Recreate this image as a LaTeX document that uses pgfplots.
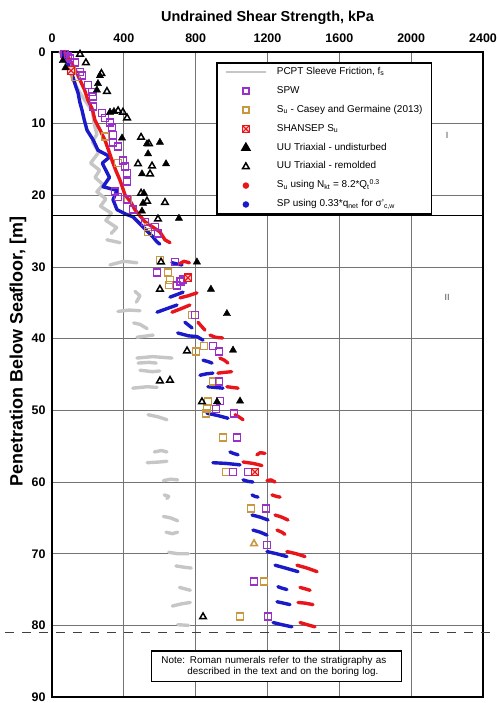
\documentclass[border=0pt]{standalone}
\usepackage{fontspec}
\setmainfont{Liberation Sans}
\usepackage{pgfplots}
\pgfplotsset{compat=1.18}

\definecolor{spw}{HTML}{9B2FC9}
\definecolor{casey}{HTML}{C9973F}
\definecolor{nkt}{HTML}{E8151B}
\definecolor{spb}{HTML}{1A1AC8}
\definecolor{pcpt}{HTML}{C6C6C6}

% red square with an X for SHANSEP
\pgfdeclareplotmark{boxx}{%
  \pgfpathrectangle{\pgfpoint{-\pgfplotmarksize}{-\pgfplotmarksize}}{\pgfpoint{2\pgfplotmarksize}{2\pgfplotmarksize}}%
  \pgfusepathqfillstroke
  \pgfpathmoveto{\pgfpoint{-\pgfplotmarksize}{-\pgfplotmarksize}}\pgfpathlineto{\pgfpoint{\pgfplotmarksize}{\pgfplotmarksize}}%
  \pgfpathmoveto{\pgfpoint{-\pgfplotmarksize}{\pgfplotmarksize}}\pgfpathlineto{\pgfpoint{\pgfplotmarksize}{-\pgfplotmarksize}}%
  \pgfusepathqstroke}

\begin{document}
\begin{tikzpicture}
\begin{axis}[
    scale only axis, width=431bp, height=645bp,
    xmin=0, xmax=2400, ymin=0, ymax=90,
    y dir=reverse,
    xticklabel pos=upper,
    xtick={0,400,...,2400}, ytick={0,10,...,90},
    major tick length=0pt,
    ticklabel style={font=\fontsize{12.5}{14}\selectfont\bfseries},
    xticklabel style={yshift=6bp},
    yticklabel style={xshift=-3bp},
    /pgf/number format/assume math mode=true,
    /pgf/number format/1000 sep={},
    xlabel={Undrained Shear Strength, kPa},
    ylabel={Penetration Below Seafloor, [m]},
    xlabel style={font=\fontsize{14.5}{16}\selectfont\bfseries, at={(axis description cs:0.5,1.048)}, anchor=base},
    ylabel style={font=\fontsize{18}{20}\selectfont\bfseries, at={(axis description cs:-0.079,0.536)}, anchor=center},
    grid=major, grid style={black!55, line width=0.8bp},
    axis line style={line width=2.5bp},
    clip=false,
    legend image code/.code={\draw[mark repeat=2,mark phase=2,#1] plot coordinates {(0bp,0bp) (20bp,0bp) (40bp,0bp)};},
    legend style={at={(0.3805,0.9845)}, anchor=north west, draw=black, line width=1.8bp,
        font=\fontsize{10}{11}\selectfont, inner xsep=8bp, inner ysep=3.5bp, row sep=7.4bp,
        nodes={inner sep=1bp, text height=7bp, text depth=2.5bp},
        /tikz/every odd column/.append style={column sep=9bp}},
    legend cell align=left,
]
\coordinate (BL) at (axis cs:-289.5,90.83);
\coordinate (TR) at (axis cs:2477.9,-7.26);

% legend images
\addlegendimage{pcpt, line width=2pt}
\addlegendentry{PCPT Sleeve Friction, f\textsubscript{s}}
\addlegendimage{only marks, mark=square, mark size=3bp, mark options={draw=spw, line width=1.6bp}}
\addlegendentry{SPW}
\addlegendimage{only marks, mark=square, mark size=3bp, mark options={draw=casey, line width=1.6bp}}
\addlegendentry{S\textsubscript{u} - Casey and Germaine (2013)}
\addlegendimage{only marks, mark=boxx, mark size=3.3bp, mark options={draw=nkt, fill=nkt!20, line width=1.1bp}}
\addlegendentry{SHANSEP S\textsubscript{u}}
\addlegendimage{only marks, mark=triangle*, mark size=4.2bp, mark options={black}}
\addlegendentry{UU Triaxial - undisturbed}
\addlegendimage{only marks, mark=triangle, mark size=3.8bp, mark options={black, line width=1.5bp}}
\addlegendentry{UU Triaxial - remolded}
\addlegendimage{only marks, mark=*, mark size=2.3bp, mark options={nkt}}
\addlegendentry{S\textsubscript{u} using N\textsubscript{kt} = 8.2*Q\textsubscript{t}\textsuperscript{0.3}}
\addlegendimage{only marks, mark=*, mark size=2.3bp, mark options={spb}}
\addlegendentry{SP using 0.33*q\textsubscript{net} for σ'\textsubscript{c,w}}

% PCPT sleeve friction
\addplot[pcpt, line width=3.4bp, line cap=round, line join=round, unbounded coords=jump, forget plot] coordinates {
(45,0) (70,1) (95,2.5) (120,4) (150,5.5) (190,7) (225,8.2) (235,10) (250,11.5) (225,12.5) (260,14)
(215,15.5) (265,16.5) (240,17.5) (285,18.5) (250,19.5) (300,20.5) (270,21.5) (330,22.5) (300,23.5)
(360,24.5) (330,25.3) (nan,nan)
(306,26.2) (379,26.6) (nan,nan)
(323,29.7) (400,29.2) (473,29.4) (nan,nan)
(462,33.4) (490,34.0) (470,34.9) (nan,nan)
(367,36.2) (430,36.0) (490,36.1) (nan,nan)
(455,37.8) (490,38.0) (530,38.6) (nan,nan)
(473,39.8) (530,39.6) (563,39.5) (nan,nan)
(473,42.7) (560,42.5) (668,42.7) (nan,nan)
(480,43.4) (540,43.3) (580,43.4) (nan,nan)
(490,44.4) (560,44.6) (600,44.5) (nan,nan)
(450,46.9) (530,46.7) (585,46.8) (nan,nan)
(535,50.6) (590,50.9) (640,51.3) (nan,nan)
(570,55.8) (610,55.6) (640,55.8) (nan,nan)
(530,57.3) (600,57.2) (640,57.1) (nan,nan)
(620,59.8) (660,59.6) (700,59.7) (nan,nan)
(625,61.8) (650,62.0) (640,62.3) (nan,nan)
(620,64.8) (660,65.0) (700,65.4) (nan,nan)
(635,67.0) (670,67.2) (700,67.0) (nan,nan)
(650,69.8) (700,70.0) (760,70.0) (nan,nan)
(690,71.7) (740,71.9) (775,72.0) (nan,nan)
(710,74.7) (740,74.9) (770,75.1) (nan,nan)
(670,77.3) (720,77.0) (770,76.8) (nan,nan)
(700,79.9) (760,80.0)
};

% SP using 0.33 q_net (blue)
\addplot[spb, line width=3.4bp, line cap=round, line join=round, unbounded coords=jump, forget plot] coordinates {
(50,0) (72,0.7) (95,2) (117,3.5) (130,4.6) (145,5.7) (155,7) (167,8.1) (180,9.5) (195,10.9) (230,12.3)
(256,13.7) (323,14.6) (280,15.5) (300,16.5) (320,17.5) (284,18.8) (362,19.3) (340,20.6) (362,22.0)
(410,22.6) (451,23.0) (507,24.4) (562,25.8) (585,26.5) (600,26.8) (nan,nan)
(668,29.4) (700,29.6) (724,29.7) (nan,nan)
(657,34.2) (700,33.8) (730,33.5) (nan,nan)
(585,36.3) (640,35.8) (696,35.3) (nan,nan)
(740,37.7) (760,38.1) (780,38.5) (nan,nan)
(700,39.2) (760,39.6) (807,39.7) (841,40.2) (nan,nan)
(841,43.0) (870,43.2) (891,43.4) (nan,nan)
(824,45.1) (860,44.9) (896,44.8) (nan,nan)
(868,46.7) (910,46.8) (952,46.9) (nan,nan)
(863,50.4) (920,50.7) (980,51.1) (nan,nan)
(991,55.8) (1010,56.0) (1036,56.2) (nan,nan)
(896,57.3) (970,57.4) (1047,57.6) (nan,nan)
(1064,59.7) (1090,59.9) (1119,60.0) (nan,nan)
(1114,61.8) (1130,62.0) (1147,62.1) (nan,nan)
(1114,64.6) (1160,64.9) (1203,65.3) (nan,nan)
(1119,66.7) (1160,67.0) (1197,67.4) (nan,nan)
(1197,69.7) (1250,70.0) (1308,70.4) (nan,nan)
(1242,71.6) (1300,72.0) (1370,72.5) (nan,nan)
(1258,74.6) (1280,74.8) (1308,75.0) (nan,nan)
(1253,76.7) (1290,76.9) (1325,77.1) (nan,nan)
(1231,79.6) (1280,79.9) (1336,80.2)
};

% Su using Nkt (red)
\addplot[nkt, line width=3.4bp, line cap=round, line join=round, unbounded coords=jump, forget plot] coordinates {
(70,0) (100,1.1) (130,2.5) (156,3.9) (180,5.2) (200,6.7) (225,8) (239,9.5) (270,11) (295,12.3)
(315,13.7) (334,15.1) (355,16.5) (379,17.9) (406,19.9) (440,21) (462,22) (518,23.7) (560,24.4)
(601,25.1) (629,26.2) (657,26.6) (nan,nan)
(713,29.5) (735,29.2) (765,29.4) (nan,nan)
(713,34.3) (760,34.0) (807,33.6) (nan,nan)
(668,36.3) (720,35.8) (768,35.3) (nan,nan)
(813,37.7) (830,38.2) (852,38.8) (nan,nan)
(880,39.5) (910,39.8) (950,39.9) (nan,nan)
(935,42.7) (960,43.0) (980,43.4) (nan,nan)
(924,44.8) (960,44.7) (1000,44.6) (nan,nan)
(974,46.7) (1005,46.8) (1036,46.9) (nan,nan)
(1019,50.6) (1040,50.9) (1064,51.3) (nan,nan)
(1141,56.2) (1160,55.9) (1186,56.0) (nan,nan)
(1064,57.2) (1120,57.4) (1169,57.7) (nan,nan)
(1197,59.8) (1220,59.7) (1242,60.0) (nan,nan)
(1225,61.8) (1250,62.0) (1270,62.1) (nan,nan)
(1242,64.6) (1280,64.9) (1314,65.3) (nan,nan)
(1253,66.7) (1280,67.0) (1297,67.3) (nan,nan)
(1308,69.7) (1360,70.0) (1409,70.4) (nan,nan)
(1364,71.6) (1420,72.0) (1476,72.5) (nan,nan)
(1381,74.7) (1410,74.9) (1437,75.1) (nan,nan)
(1370,76.8) (1410,76.9) (1453,77.1) (nan,nan)
(1381,79.6) (1420,79.9) (1464,80.2)
};

% Casey and Germaine
\addplot[only marks, mark=square, mark size=3.5bp, mark options={draw=casey, line width=1.6bp}, forget plot] coordinates {
(111,2.5) (130,3.5) (295,11.8) (368,15.5) (423,20.6) (535,24.4) (535,25.1) (601,29.0) (646,30.8)
(657,31.8) (652,32.5) (780,36.7) (802,41.8) (846,41.0) (896,46.0) (868,48.8) (863,49.7) (857,50.4)
(952,53.8) (969,58.6) (1108,63.7) (1181,73.9) (1047,78.8)
};
\addplot[only marks, mark=triangle, mark size=3.8bp, mark options={draw=casey, line width=1.6bp}, forget plot] coordinates {(1125,68.6)};

% SPW
\addplot[only marks, mark=square, mark size=3.5bp, mark options={draw=spw, line width=1.6bp}, forget plot] coordinates {
(70,0.3) (89,0.6) (100,0.9) (128,1.5) (156,2.8) (167,3.3) (200,4.6) (223,5.6) (228,6.2) (228,7.6)
(278,8.5) (295,9.2) (323,9.8) (334,10.5) (340,11.6) (340,12.6) (368,13.2) (395,15.1) (406,16.0)
(418,16.9) (418,18.1) (351,19.5) (368,20.2) (418,20.6) (451,22.0) (518,23.7) (574,24.4) (590,25.3)
(685,29.3) (585,30.8) (729,31.7) (715,32.0) (696,32.6) (796,36.7) (896,41.0) (930,41.8) (930,46.0)
(935,48.7) (913,49.8) (1013,50.4) (1030,53.8) (1008,58.6) (1091,58.6) (1192,63.7) (1197,68.8)
(1125,73.9) (1203,78.8)
};

% SHANSEP
\addplot[only marks, mark=boxx, mark size=3.8bp, mark options={draw=nkt, fill=nkt!20, line width=1.1bp}, forget plot] coordinates {
(106,2.6) (757,31.5) (1130,58.6)
};

% UU undisturbed
\addplot[only marks, mark=triangle*, mark size=4.2bp, mark options={black}, forget plot] coordinates {
(60,1.2) (75,2.2) (267,3.3) (256,4.4) (250,5.3) (323,8.4) (345,8.3) (390,12.0) (529,12.8) (601,12.6)
(535,14.2) (635,15.6) (501,17.0) (512,19.7) (507,21.1) (501,22.2) (707,23.2) (807,29.3) (885,33.1)
(974,36.5) (1008,41.6) (1047,48.7) (919,48.8)
};

% UU remolded
\addplot[only marks, mark=triangle, mark size=3.8bp, mark options={black, line width=1.5bp}, forget plot] coordinates {
(156,0.3) (189,1.5) (275,3.0) (306,5.5) (368,8.2) (395,8.4) (418,9.2) (496,11.9) (540,12.8) (479,15.6)
(557,15.9) (546,17.0) (496,19.7) (529,20.8) (629,21.0) (590,23.3) (607,29.3) (601,33.1) (752,41.7)
(601,45.9) (657,45.8) (835,48.8) (841,78.8)
};

% stratigraphy boundaries
\draw[black, line width=1.3bp] (axis cs:0,22.8) -- (axis cs:2400,22.8);
\draw[black!75, line width=1.2bp, dash pattern=on 9bp off 8bp] (axis cs:-262,81) -- (axis cs:2478,81);
\node[black!70, font=\fontsize{9}{10}\selectfont] at (axis cs:2200,11.6) {I};
\node[black!70, font=\fontsize{9}{10}\selectfont] at (axis cs:2200,34.3) {II};

% note
\node[draw=black, line width=1.6bp, fill=white, text width=230bp, inner xsep=10bp, inner ysep=5bp, align=left,
      font=\fontsize{9.9}{11.5}\selectfont] at (axis cs:1250,85.7)
  {Note: Roman numerals refer to the stratigraphy as\\\hspace*{26bp}described in the text and on the boring log.};
\end{axis}
\pgfresetboundingbox
\path[use as bounding box] (BL) rectangle (TR);
\end{tikzpicture}
\end{document}
